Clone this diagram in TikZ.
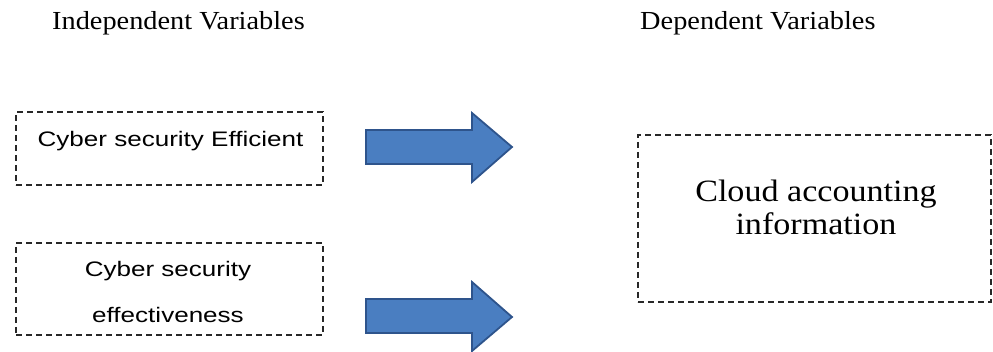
\documentclass[tikz,border=0pt]{standalone}
\usepackage{fontspec}
\setmainfont{Liberation Serif}
\newfontfamily\headfont[FakeStretch=1.09]{Liberation Serif}
\newfontfamily\cloudfont[FakeStretch=1.1]{Liberation Serif}
\newfontfamily\boxfont[FakeStretch=1.24]{Liberation Sans}
\definecolor{arrowfill}{RGB}{74,126,193}
\definecolor{arrowline}{RGB}{46,84,140}
\definecolor{boxline}{RGB}{40,40,40}
\begin{document}
\begin{tikzpicture}[x=1pt,y=-1pt,
  dbox/.style={draw=boxline,line width=1.1pt,dash pattern=on 6pt off 4pt,minimum width=#1,inner sep=0pt},
  head/.style={inner sep=0pt,anchor=base west,font=\headfont\fontsize{26}{30}\selectfont},
  sans/.style={inner sep=0pt,anchor=base,font=\boxfont\fontsize{21}{25}\selectfont},
  cloud/.style={inner sep=0pt,anchor=base,font=\cloudfont\fontsize{31}{36}\selectfont},
  bigarrow/.style={fill=arrowfill,draw=arrowline,line width=1.8pt,line join=miter}]
\useasboundingbox (0,0) rectangle (993,352);
% headings
\node[head] (hind) at (52,30) {Independent Variables};
\node[head] (hdep) at (640,30) {Dependent Variables};
% boxes
\node[dbox=307pt,minimum height=73pt] (b1) at (169.5,148.5) {};
\node[dbox=307pt,minimum height=92pt] (b2) at (169.5,289) {};
\node[dbox=353pt,minimum height=167pt] (b3) at (814.5,218.5) {};
% texts
\node[sans] (t1) at (170.5,147) {Cyber security Efficient};
\node[sans] (t2a) at (168,277) {Cyber security};
\node[sans] (t2b) at (168,323) {effectiveness};
\node[cloud] (t3a) at (816,202) {Cloud accounting};
\node[cloud] (t3b) at (816,235) {information};
% arrows
\draw[bigarrow] (366,130) -- (472,130) -- (472,113) -- (512,147) -- (472,182) -- (472,164) -- (366,164) -- cycle;
\draw[bigarrow] (366,299) -- (472,299) -- (472,282) -- (512,317) -- (472,351) -- (472,333) -- (366,333) -- cycle;
\end{tikzpicture}
\end{document}
